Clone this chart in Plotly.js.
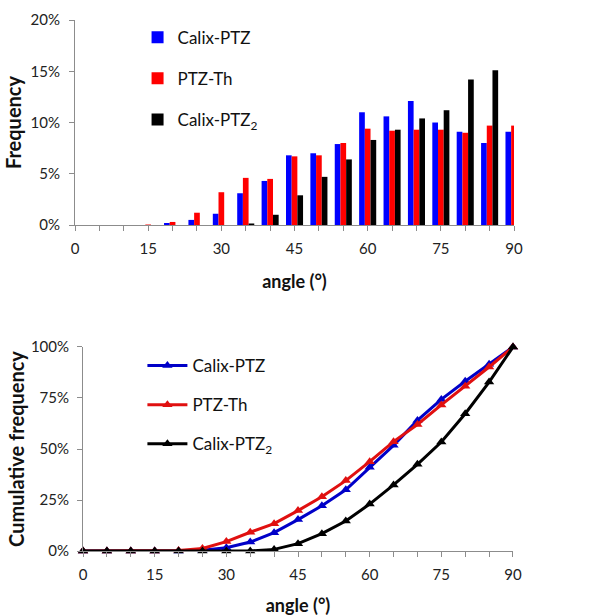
<!DOCTYPE html>
<html>
<head>
<meta charset="utf-8">
<script src="https://cdn.plot.ly/plotly-3.0.1.min.js"></script>
<style>html,body{margin:0;padding:0;background:#fff;}#chart{width:606px;height:616px;}</style>
</head>
<body>
<div id="chart"></div>
<script>
const angles = [0,5,10,15,20,25,30,35,40,45,50,55,60,65,70,75,80,85,90];
const seriesNames = ['Calix-PTZ', 'PTZ-Th', 'Calix-PTZ<sub>2</sub>'];
const seriesColors = ['#0000ff', '#ff0000', '#000000'];
const lineColors = ['#0000c8', '#e01010', '#000000'];

// Frequency (%) per 5° bin
const freqCalixPTZ  = [0,0,0,0,0.2,0.5,1.1,3.1,4.3,6.8,7.0,7.9,11.0,10.6,12.1,10.0,9.1,8.0,9.1];
const freqPTZTh     = [0,0,0,0.05,0.3,1.2,3.2,4.6,4.5,6.7,6.8,8.0,9.4,9.2,9.3,9.3,9.0,9.7,9.7];
const freqCalixPTZ2 = [0,0,0,0,0,0,0,0.15,1.0,2.9,4.7,6.4,8.3,9.3,10.4,11.2,14.2,15.1,16.4];

// Cumulative frequency (%)
const cumCalixPTZ  = [0,0,0,0,0,0.4,1.6,4.4,9.0,15.4,22.2,30.0,41.0,51.8,64.0,74.3,83.2,91.5,100];
const cumPTZTh     = [0,0,0,0,0.3,1.2,4.6,9.2,13.4,19.8,26.6,34.5,43.8,53.6,62.0,71.6,80.7,90.2,100];
const cumCalixPTZ2 = [0,0,0,0,0,0,0,0,0.8,3.6,8.5,14.7,23.0,32.4,42.5,53.4,67.3,82.8,100];

const yTickVals1 = [0,5,10,15,20];
const yTickVals2 = [0,25,50,75,100];
const xTickVals = [0,15,30,45,60,75,90];

const freqs = [freqCalixPTZ, freqPTZTh, freqCalixPTZ2];
const cums = [cumCalixPTZ, cumPTZTh, cumCalixPTZ2];
const FONT = 'Lato, "Open Sans", sans-serif';

const traces = [];
freqs.forEach((f, i) => {
  traces.push({
    type: 'bar', x: angles, y: f, name: seriesNames[i],
    marker: {color: seriesColors[i], line: {width: 0}},
    xaxis: 'x', yaxis: 'y', legend: 'legend', legendgroup: 'b' + i
  });
});
cums.forEach((c, i) => {
  traces.push({
    type: 'scatter', mode: 'lines+markers', x: angles, y: c, name: seriesNames[i],
    line: {color: lineColors[i], width: 3},
    marker: {symbol: 'triangle-up', size: 9, color: lineColors[i]},
    xaxis: 'x2', yaxis: 'y2', legend: 'legend2', legendgroup: 'l' + i, cliponaxis: false
  });
});

const axisCommon = {
  showgrid: false, zeroline: false, showline: true, linecolor: '#8c8c8c', linewidth: 1,
  ticks: 'outside', tickcolor: '#8c8c8c', ticklen: 5, automargin: false,
  tickfont: {family: FONT, size: 15, color: '#222'}
};

const layout = {
  width: 606, height: 616,
  margin: {l: 0, r: 0, t: 0, b: 0},
  paper_bgcolor: '#fff', plot_bgcolor: '#fff',
  showlegend: true,
  barmode: 'group', bargap: 0.3, bargroupgap: 0,
  xaxis: Object.assign({}, axisCommon, {
    domain: [0.1238, 0.8482], anchor: 'y', range: [0, 90],
    tickvals: xTickVals, ticktext: xTickVals.map(String), ticklabelstandoff: 5,
    minor: {dtick: 5, tick0: 0, ticks: 'outside', ticklen: 5, tickcolor: '#8c8c8c'},
    title: {text: '<b>angle (°)</b>', font: {family: FONT, size: 18, color: '#111'}, standoff: 19}
  }),
  yaxis: Object.assign({}, axisCommon, {
    domain: [0.6347, 0.9675], anchor: 'x', range: [0, 20],
    tickvals: yTickVals1, ticktext: yTickVals1.map(v => v + '%'), ticklabelstandoff: 6,
    title: {text: '<b>Frequency</b>', font: {family: FONT, size: 20, color: '#111'}, standoff: 3}
  }),
  xaxis2: Object.assign({}, axisCommon, {
    domain: [0.137, 0.8465], anchor: 'y2', range: [0, 90],
    tickvals: xTickVals, ticktext: xTickVals.map(String), ticklabelstandoff: 5,
    minor: {dtick: 5, tick0: 0, ticks: 'outside', ticklen: 5, tickcolor: '#8c8c8c'},
    title: {text: '<b>angle (°)</b>', font: {family: FONT, size: 18, color: '#111'}, standoff: 20}
  }),
  yaxis2: Object.assign({}, axisCommon, {
    domain: [0.1055, 0.4367], anchor: 'x2', range: [0, 100],
    tickvals: yTickVals2, ticktext: yTickVals2.map(v => v + '%'), ticklabelstandoff: 5,
    title: {text: '<b>Cumulative frequency</b>', font: {family: FONT, size: 20, color: '#111'}, standoff: 0}
  }),
  legend: {
    x: 0.227, y: 0.968, xanchor: 'left', yanchor: 'top',
    bgcolor: 'rgba(0,0,0,0)', font: {family: FONT, size: 17, color: '#111'},
    tracegroupgap: 16, itemwidth: 30, traceorder: 'grouped'
  },
  legend2: {
    x: 0.235, y: 0.435, xanchor: 'left', yanchor: 'top',
    bgcolor: 'rgba(0,0,0,0)', font: {family: FONT, size: 17, color: '#111'},
    tracegroupgap: 14, itemwidth: 40, traceorder: 'grouped'
  }
};

Plotly.newPlot('chart', traces, layout, {displayModeBar: false, staticPlot: true});
</script>
</body>
</html>
